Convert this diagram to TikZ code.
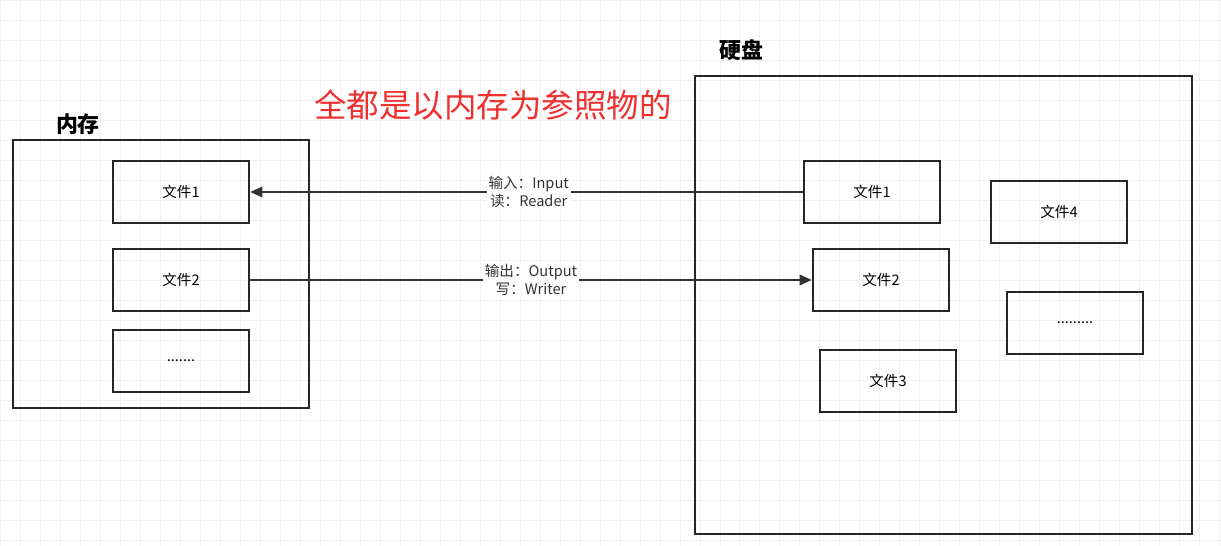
\documentclass[tikz,border=0pt]{standalone}
\usepackage{fontspec}
\setmainfont{Noto Sans CJK SC}
\usetikzlibrary{arrows.meta}
\begin{document}
\begin{tikzpicture}[x=0.02cm,y=-0.02cm,
  box/.style={draw=black!85,line width=1.3pt},
  fbox/.style={draw=black!85,line width=1.3pt,font=\fontsize{8.3}{10}\selectfont},
  lbl/.style={fill=white,inner sep=1pt,align=center,font=\fontsize{8.3}{10}\selectfont,text=black!80},
  conn/.style={line width=1.1pt,draw=black!80,-{Triangle[length=7pt,width=6pt]}},
  ttl/.style={font=\bfseries\fontsize{12.5}{14}\selectfont}]
\fill[white] (0,0) rectangle (1221,546);
\useasboundingbox (0,0) rectangle (1221,546);
\draw[black!6,line width=0.4pt] (0,0) grid[step=0.4cm] (1221,546);
\node[ttl] (mt) at (78,124) {内存};
\draw[box] (13,140) rectangle (309,408);
\node[ttl] (dt) at (741,50) {硬盘};
\draw[box] (695,76) rectangle (1192,534);
\node[font=\fontsize{18.5}{22}\selectfont,text={rgb,255:red,240;green,48;blue,47}] (red) at (493,105) {全都是以内存为参照物的};
\node[fbox,minimum width=136*0.02cm,minimum height=62*0.02cm] (m1) at (181,192) {文件1};
\node[fbox,minimum width=136*0.02cm,minimum height=62*0.02cm] (m2) at (181,280) {文件2};
\node[fbox,minimum width=136*0.02cm,minimum height=62*0.02cm] (m3) at (181,361) {.......};
\node[fbox,minimum width=136*0.02cm,minimum height=62*0.02cm] (d1) at (872,192) {文件1};
\node[fbox,minimum width=136*0.02cm,minimum height=62*0.02cm] (d2) at (881,280) {文件2};
\node[fbox,minimum width=136*0.02cm,minimum height=62*0.02cm] (d3) at (888,381) {文件3};
\node[fbox,minimum width=136*0.02cm,minimum height=62*0.02cm] (d4) at (1059,212) {文件4};
\node[fbox,minimum width=136*0.02cm,minimum height=62*0.02cm] (d5) at (1075,323) {.........};
\draw[conn] (d1.west) -- node[lbl,pos=0.496] {输入：Input\\读：Reader} (m1.east);
\draw[conn] (m2.east) -- node[lbl,pos=0.5] {输出：Output\\写：Writer} (d2.west);
\end{tikzpicture}
\end{document}
